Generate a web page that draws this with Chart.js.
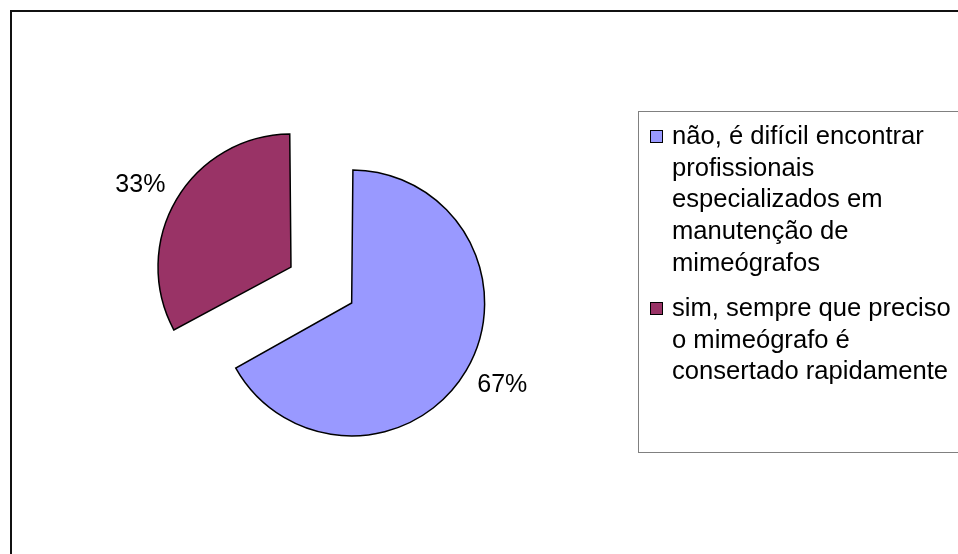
<!DOCTYPE html>
<html>
<head>
<meta charset="utf-8">
<script src="https://cdn.jsdelivr.net/npm/chart.js@4.4.1/dist/chart.umd.min.js"></script>
<style>
  html, body { margin: 0; padding: 0; width: 958px; height: 554px; overflow: hidden; background: #fff; }
  #frame { position: absolute; left: 10px; top: 10px; width: 1100px; height: 700px; border: 2px solid #111; }
  #wrap { position: absolute; left: 45.3px; top: 49.1px; width: 600px; height: 500px; }
  #legend { position: absolute; left: 638px; top: 111px; width: 500px; height: 340px; border: 1px solid #808080;
            font-family: "Liberation Sans", Arial, sans-serif; font-size: 25.6px; color: #000; z-index: 2; }
  .item { position: absolute; left: 33px; line-height: 31.7px; }
  .box { position: absolute; left: -22px; width: 11px; height: 11px; border: 1.5px solid #000; }
</style>
</head>
<body>
<div id="frame"></div>
<div id="wrap"><canvas id="myChart" width="600" height="500"></canvas></div>
<div id="legend"></div>
<script>
var labels = [
  ['não, é difícil encontrar', 'profissionais', 'especializados em', 'manutenção de', 'mimeógrafos'],
  ['sim, sempre que preciso', 'o mimeógrafo é', 'consertado rapidamente']
];
var values = [67, 33];
var colors = ['#9999FF', '#993366'];

// legend drawn as html, one block per category
var legend = document.getElementById('legend');
var itemTops = [8, 180];
labels.forEach(function (lines, i) {
  var div = document.createElement('div');
  div.className = 'item';
  div.style.top = itemTops[i] + 'px';
  var box = document.createElement('div');
  box.className = 'box';
  box.style.top = '10px';
  box.style.background = colors[i];
  div.appendChild(box);
  div.insertAdjacentHTML('beforeend', lines.join('<br>'));
  legend.appendChild(div);
});

// percent labels outside each slice
var pctLabels = {
  id: 'pctLabels',
  afterDatasetsDraw: function (chart) {
    var ctx = chart.ctx;
    var meta = chart.getDatasetMeta(0);
    var total = values.reduce(function (a, b) { return a + b; }, 0);
    ctx.save();
    ctx.font = '25px "Liberation Sans", Arial, sans-serif';
    ctx.fillStyle = '#000';
    ctx.textAlign = 'center';
    ctx.textBaseline = 'middle';
    meta.data.forEach(function (el, i) {
      var p = el.getProps(['x', 'y', 'startAngle', 'endAngle', 'outerRadius']);
      var mid = (p.startAngle + p.endAngle) / 2;
      var circ = p.endAngle - p.startAngle;
      var shift = (el.options.offset || 0) / 4;
      var r = p.outerRadius + shift * (1 - Math.sin(Math.min(Math.PI, circ)));
      var txt = Math.round(values[i] / total * 100) + '%';
      var w = ctx.measureText(txt).width;
      var d = shift + r + 17;
      var x = p.x + Math.cos(mid) * (d + w / 2);
      var y = p.y + Math.sin(mid) * (d + 12);
      ctx.fillText(txt, x, y);
    });
    ctx.restore();
  }
};

var ctx = document.getElementById('myChart').getContext('2d');
var myChart = new Chart(ctx, {
  type: 'pie',
  data: {
    labels: labels,
    datasets: [{
      data: values,
      backgroundColor: colors,
      borderColor: '#000',
      borderWidth: 1.5,
      borderJoinStyle: 'miter',
      offset: [31, 251]
    }]
  },
  options: {
    responsive: false,
    animation: false,
    devicePixelRatio: 1,
    radius: 125.2,
    layout: { padding: 0 },
    plugins: {
      legend: { display: false },
      tooltip: { enabled: false }
    }
  },
  plugins: [pctLabels]
});
</script>
</body>
</html>
